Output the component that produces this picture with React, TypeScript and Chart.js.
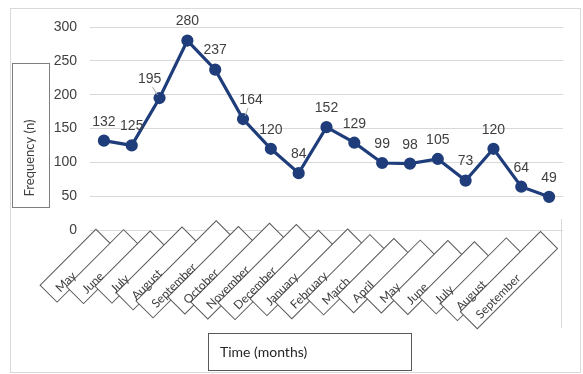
import React, { useEffect, useRef } from "react";
import { Chart, registerables } from "chart.js";

Chart.register(...registerables);

const months = [
  "May", "June", "July", "August", "September", "October", "November", "December",
  "January", "February", "March", "April", "May", "June", "July", "August", "September",
];
const frequency = [132, 125, 195, 280, 237, 164, 120, 84, 152, 129, 99, 98, 105, 73, 120, 64, 49];
const yMin = 0;
const yMax = 300;
const yStep = 50;
const yTitle = "Frequency (n)";
const xTitle = "Time (months)";

const LINE_COLOR = "#1f3d7a";
const TEXT_COLOR = "#404040";

// label nudges (style config): index -> [dx, dy, leader]
const labelNudge: Record<number, [number, number, boolean]> = {
  2: [-10, 0, true],
  5: [8, 0, true],
};

const framePlugin = {
  id: "frame",
  beforeDraw(chart: any) {
    const ctx = chart.ctx;
    ctx.save();
    ctx.fillStyle = "#ffffff";
    ctx.fillRect(0, 0, chart.width, chart.height);
    ctx.strokeStyle = "#d9d9d9";
    ctx.lineWidth = 1;
    ctx.strokeRect(10.5, 8.5, 570, 364);
    ctx.restore();
  },
};

const dataLabelPlugin = {
  id: "dataLabels",
  afterDatasetsDraw(chart: any) {
    const ctx = chart.ctx;
    const meta = chart.getDatasetMeta(0);
    ctx.save();
    ctx.font = "14px 'Liberation Sans', Arial, sans-serif";
    ctx.fillStyle = TEXT_COLOR;
    ctx.textAlign = "center";
    ctx.textBaseline = "middle";
    meta.data.forEach((pt: any, i: number) => {
      const n = labelNudge[i] || [0, 0, false];
      const lx = pt.x + n[0];
      const ly = pt.y - 19 + n[1];
      if (n[2]) {
        ctx.strokeStyle = "#a6a6a6";
        ctx.lineWidth = 1;
        ctx.beginPath();
        const sx = n[0] < 0 ? lx + 3 : lx - 3;
        ctx.moveTo(sx, ly + 8);
        ctx.lineTo(pt.x + (n[0] < 0 ? -2 : 2), pt.y - 3);
        ctx.stroke();
      }
      ctx.fillText(String(frequency[i]), lx, ly);
    });
    ctx.restore();
  },
};

const axisDecorPlugin = {
  id: "axisDecor",
  afterDraw(chart: any) {
    const ctx = chart.ctx;
    const xs = chart.scales.x;
    const area = chart.chartArea;
    ctx.save();

    // right frame line
    ctx.strokeStyle = "#d9d9d9";
    ctx.lineWidth = 1;
    ctx.beginPath();
    ctx.moveTo(area.right - 1.5, area.bottom - 11);
    ctx.lineTo(area.right - 1.5, area.bottom + 98);
    ctx.stroke();

    // rotated boxed x labels
    ctx.font = "12px Lato, 'Open Sans', sans-serif";
    const items = months.map((m, i) => {
      const x = xs.getPixelForTick(i);
      const cx = x - 38 - 0.8 * i;
      const cy = area.bottom + 52 + 0.9 * i;
      const tw = ctx.measureText(m).width;
      return { m, cx, cy, tw };
    });
    items.forEach(({ cx, cy, tw }) => {
      const L = Math.max(78, tw + 56);
      ctx.save();
      ctx.translate(cx, cy);
      ctx.rotate(-Math.PI / 4);
      ctx.fillStyle = "#ffffff";
      ctx.strokeStyle = "#595959";
      ctx.lineWidth = 1;
      ctx.fillRect(-tw / 2 - 9, -16, L, 24);
      ctx.strokeRect(-tw / 2 - 9, -16, L, 24);
      ctx.restore();
    });
    items.forEach(({ m, cx, cy }) => {
      ctx.save();
      ctx.translate(cx, cy);
      ctx.rotate(-Math.PI / 4);
      ctx.fillStyle = TEXT_COLOR;
      ctx.textAlign = "center";
      ctx.textBaseline = "middle";
      ctx.fillText(m, 0, 0);
      ctx.restore();
    });

    // y title box
    ctx.strokeStyle = "#7f7f7f";
    ctx.lineWidth = 1;
    ctx.strokeRect(12.5, 63.5, 37, 144);
    ctx.save();
    ctx.translate(30, 158);
    ctx.rotate(-Math.PI / 2);
    ctx.font = "13px Lato, 'Open Sans', sans-serif";
    ctx.fillStyle = TEXT_COLOR;
    ctx.textAlign = "center";
    ctx.textBaseline = "middle";
    ctx.fillText(yTitle, 0, 0);
    ctx.restore();

    // x title box
    ctx.strokeStyle = "#595959";
    ctx.strokeRect(208.5, 333.5, 203, 37);
    ctx.font = "14px Lato, 'Open Sans', sans-serif";
    ctx.fillStyle = "#262626";
    ctx.textAlign = "left";
    ctx.textBaseline = "middle";
    ctx.fillText(xTitle, 220, 352);

    ctx.restore();
  },
};

export default function App() {
  const canvasRef = useRef<HTMLCanvasElement | null>(null);

  useEffect(() => {
    if (!canvasRef.current) return;
    const chart = new Chart(canvasRef.current, {
      type: "line",
      data: {
        labels: months,
        datasets: [
          {
            data: frequency,
            borderColor: LINE_COLOR,
            backgroundColor: LINE_COLOR,
            borderWidth: 3.2,
            pointRadius: 4.5,
            pointHoverRadius: 4.5,
            pointBackgroundColor: LINE_COLOR,
            pointBorderColor: LINE_COLOR,
            tension: 0,
          },
        ],
      },
      options: {
        animation: false,
        responsive: true,
        maintainAspectRatio: false,
        layout: { padding: { left: 0, top: 27, right: 20, bottom: 0 } },
        plugins: {
          legend: { display: false },
          tooltip: { enabled: false },
          title: { display: false },
        },
        scales: {
          x: {
            type: "category",
            offset: true,
            grid: { display: false },
            border: { display: false },
            ticks: { display: false },
            afterFit: (s: any) => {
              s.height = 144;
            },
          },
          y: {
            min: yMin,
            max: yMax,
            ticks: {
              stepSize: yStep,
              padding: 13,
              color: TEXT_COLOR,
              font: { size: 14, family: "'Liberation Sans', Arial, sans-serif" },
            },
            grid: { color: "#d9d9d9", drawTicks: false, lineWidth: 1 },
            border: { display: false },
            afterFit: (s: any) => {
              s.width = 90;
            },
          },
        },
      },
      plugins: [framePlugin, dataLabelPlugin, axisDecorPlugin],
    });
    return () => chart.destroy();
  }, []);

  return (
    <div style={{ position: "absolute", left: 0, top: 0, width: 583, height: 374 }}>
      <canvas ref={canvasRef} />
    </div>
  );
}
